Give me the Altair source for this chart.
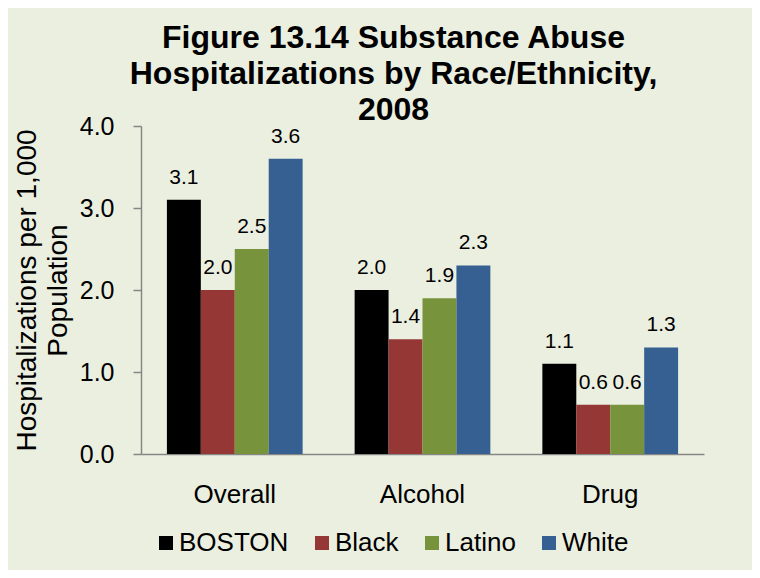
import altair as alt
import pandas as pd

categories = ["Overall", "Alcohol", "Drug"]
groups = ["BOSTON", "Black", "Latino", "White"]
boston = [3.1, 2.0, 1.1]
black = [2.0, 1.4, 0.6]
latino = [2.5, 1.9, 0.6]
white = [3.6, 2.3, 1.3]
colors = ["#000000", "#953735", "#77933C", "#376092"]
y_ticks = [0, 1, 2, 3, 4]
title_lines = ["Figure 13.14 Substance Abuse", "Hospitalizations by Race/Ethnicity,", "2008"]
y_title = ["Hospitalizations per 1,000", "Population"]

rows = []
for g, vals in zip(groups, [boston, black, latino, white]):
    for c, v in zip(categories, vals):
        rows.append({"category": c, "group": g, "value": v})
df = pd.DataFrame(rows)

FONT = "Liberation Sans"
GREY = "#868686"

x = alt.X(
    "category:N", sort=categories,
    scale=alt.Scale(paddingInner=0.277, paddingOuter=0.138),
    axis=alt.Axis(title=None, labelAngle=0, ticks=False, labelFontSize=26, labelFont=FONT,
                  labelPadding=27, domainColor=GREY, domainWidth=1.5, labelColor="#000000"),
)
xoff = alt.XOffset("group:N", sort=groups, scale=alt.Scale(paddingInner=0, paddingOuter=0))
y = alt.Y(
    "value:Q", scale=alt.Scale(domain=[0, 4]),
    axis=alt.Axis(values=y_ticks, format=".1f", grid=False, tickSize=8, tickColor=GREY,
                  tickWidth=1.5, domainColor=GREY, domainWidth=1.5, labelFontSize=25,
                  labelFont=FONT, labelColor="#000000", labelPadding=19,
                  title=y_title, titleX=-114, titleY=164, titleAngle=-90,
                  titleBaseline="middle", titleAlign="center", titleLineHeight=31,
                  titleFontSize=28, titleFont=FONT, titleFontWeight="normal",
                  titleColor="#000000"),
)
color = alt.Color(
    "group:N", sort=groups, scale=alt.Scale(domain=groups, range=colors),
    legend=alt.Legend(orient="none", legendX=12, legendY=404, direction="horizontal",
                      title=None, symbolType="square", symbolSize=196, symbolStrokeWidth=0,
                      symbolOpacity=1, labelFontSize=26, labelFont=FONT, labelColor="#000000",
                      labelOffset=0, columnPadding=20, padding=0, labelLimit=300),
)

base = alt.Chart(df)
bars = base.mark_bar().encode(x=x, xOffset=xoff, y=y, color=color)
labels = base.mark_text(baseline="alphabetic", dy=-16, fontSize=21, font=FONT, color="#000000").encode(
    x=x, xOffset=xoff, y=y, text=alt.Text("value:Q", format=".1f")
)

chart = (
    alt.layer(bars, labels)
    .properties(
        width=563, height=328,
        autosize=alt.AutoSizeParams(type="none"),
        padding={"left": 133, "top": 118, "right": 48, "bottom": 116},
        background="#EBEFE0",
        title=alt.Title(text=title_lines, fontSize=32, font=FONT, fontWeight="bold",
                        anchor="middle", dx=-29, dy=42, offset=4, frame="group",
                        baseline="alphabetic", lineHeight=36, color="#000000"),
    )
    .configure_view(stroke=None)
)

chart.save("out.html", embed_options={"renderer": "svg", "actions": False})
